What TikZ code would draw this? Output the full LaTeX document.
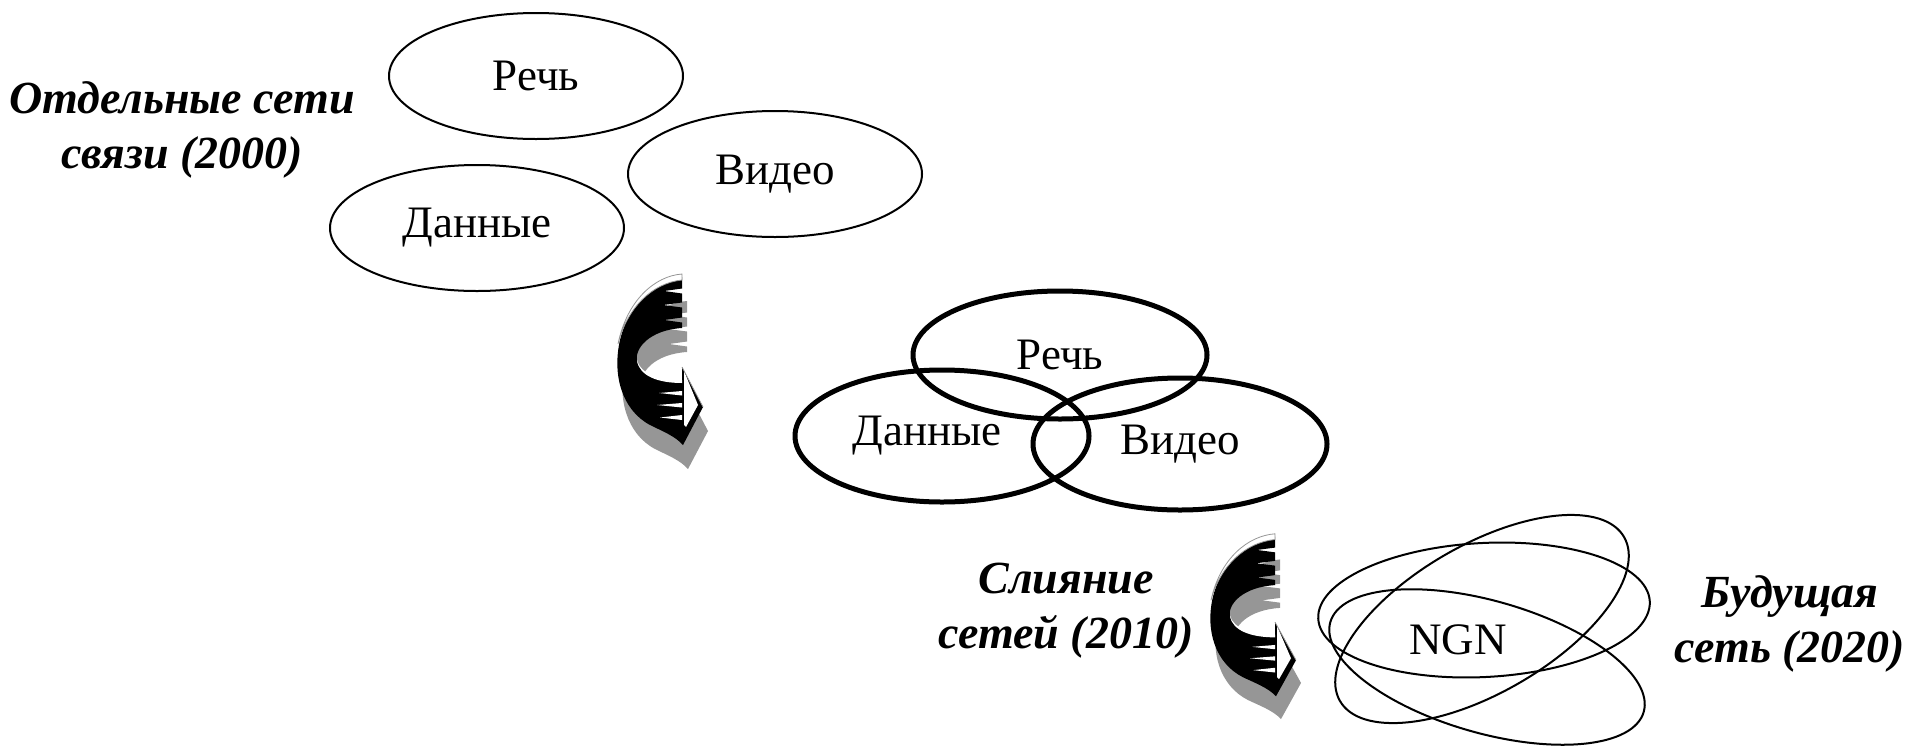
\documentclass[tikz,border=0pt]{standalone}
\usepackage{fontspec}
\setmainfont{Liberation Serif}
\usetikzlibrary{shapes.geometric}

% Outline of the curled "feathered" arrow, in local pixel units (y grows downward)
\newcommand\curlbody{(82,7) .. controls (55,9) and (30,30) .. (20,70)
  .. controls (12,105) and (22,140) .. (50,155)
  .. controls (62,161) and (75,166) .. (83,175)
  -- (103,137) -- (82,97) -- (82,112)
  .. controls (60,112) and (40,106) .. (37,92)
  .. controls (34,78) and (50,60) .. (82,58)
  -- (82,52.5) -- (64,50) -- (82,47.5)
  -- (82,37.5) -- (63,35) -- (82,32.5)
  -- (82,23.5) -- (64,21) -- (82,18.5) -- cycle}

\definecolor{shadowgrey}{RGB}{150,150,150}

\tikzset{
  x=1pt, y=-1pt,
  net/.style={ellipse, draw, line width=2pt, inner sep=0pt,
    minimum width=294pt, minimum height=126pt,
    font=\fontsize{45}{50}\selectfont},
  netthick/.style={net, line width=5pt},
  ring/.style={ellipse, draw, line width=2pt, inner sep=0pt},
  era/.style={align=center, font=\bfseries\itshape\fontsize{46}{55}\selectfont},
  plain/.style={font=\fontsize{45}{50}\selectfont},
  curlarrow/.pic={
    \fill[shadowgrey, shift={(5,24)}] \curlbody;
    \fill[black] \curlbody;
    % light rim along the outer top edge
    \filldraw[fill=white, draw=shadowgrey, line width=0.8pt]
      (82,4) .. controls (55,6) and (27,30) .. (18,74)
      .. controls (27,38) and (52,13) .. (82,10) -- cycle;
    % light rim along the inner lower edge
    \fill[white] (37,90) .. controls (40,104) and (60,110) .. (82,110)
      -- (82,113) .. controls (58,113) and (39,106) .. cycle;
    % feathers next to the head
    \fill[white] (82,121) -- (59,123) -- (82,125.5) -- cycle;
    \fill[white] (82,133) -- (57,135) -- (82,137.5) -- cycle;
    \fill[white] (82,145) -- (60,147.5) -- (82,150) -- cycle;
    % arrow head face
    \fill[white] (84,101) -- (98,135) -- (86,157) -- (84,155) -- cycle;
    \draw[shadowgrey, line width=0.8pt] (82,97) -- (103,137);
  }
}

\begin{document}
\begin{tikzpicture}
\useasboundingbox (0,0) rectangle (1913,745);

% separate networks
\node[net] (speech1) at (536,76)  {Речь};
\node[net] (data1)   at (477,228) {Данные};
\node[net] (video1)  at (775,174) {Видео};
\node[era] (era1) at (182,130) {Отдельные сети\\связи (2000)};

% converged networks
\node[netthick, minimum height=128pt] (speech2) at (1060,355) {Речь};
\node[netthick, minimum height=132pt] (data2)   at (942,436)  {\hspace*{-30pt}Данные};
\node[netthick, minimum height=132pt] (video2)  at (1180,444) {Видео};
\node[era] (era2) at (1066,611) {Слияние\\сетей (2010)};

% next generation network
\node[ring, rotate=3,   minimum width=332pt, minimum height=134pt] (ringA) at (1484,610) {};
\node[ring, rotate=30,  minimum width=328pt, minimum height=148pt] (ringB) at (1482,619) {};
\node[ring, rotate=-16, minimum width=326pt, minimum height=132pt] (ringC) at (1487,667) {};
\node[plain] (ngn) at (1458,640) {NGN};
\node[era] (era3) at (1790,624) {Будущая\\сеть (2020)};

% transition arrows
\pic at (600,270) {curlarrow};
\pic[yscale=0.95] at (1193,530) {curlarrow};
\end{tikzpicture}
\end{document}
